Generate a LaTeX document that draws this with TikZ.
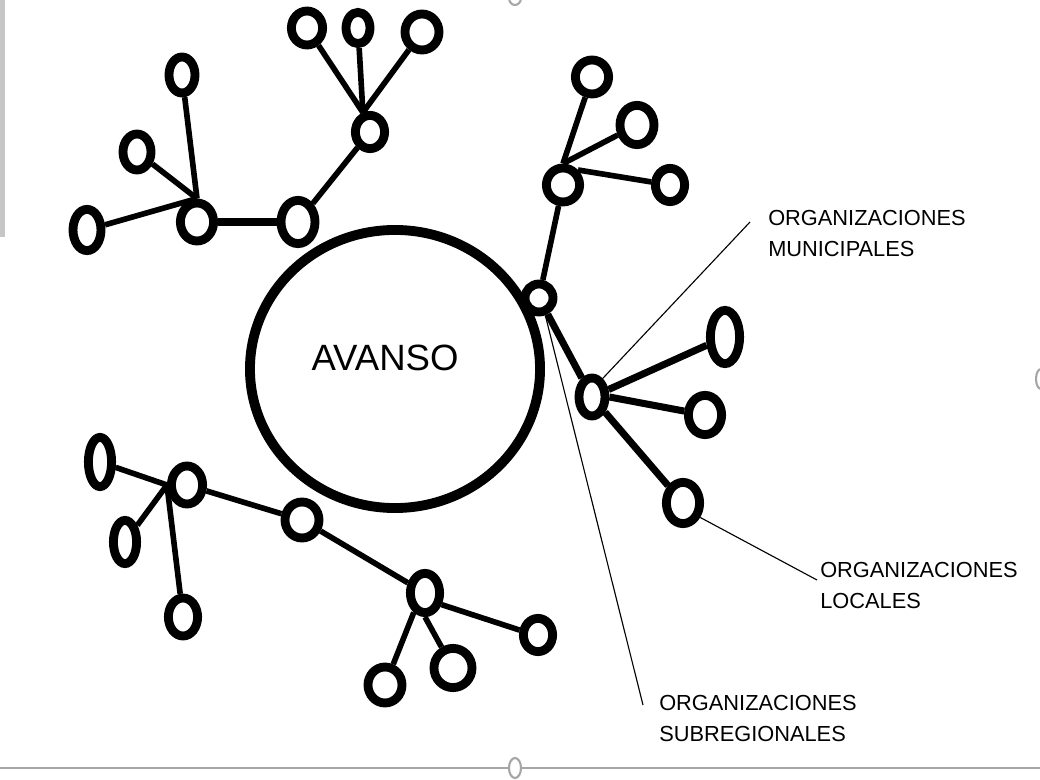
\documentclass[tikz,border=0pt]{standalone}
\usepackage{fontspec}
\setmainfont{Liberation Sans}
\usetikzlibrary{shapes.geometric}

\begin{document}
\begin{tikzpicture}[
    x=0.025cm, y=-0.025cm,
    orgnode/.style={ellipse, draw, fill=white, line width=6.3pt, inner sep=0pt,
        minimum width=0.8cm, minimum height=0.9cm},
    mainorg/.style={ellipse, draw, line width=7pt, inner sep=0pt,
        minimum width=7.25cm, minimum height=6.95cm},
    link/.style={line width=4pt},
    heavylink/.style={line width=5pt},
    leader/.style={line width=0.8pt},
    orglabel/.style={anchor=north west, inner sep=0pt, align=left,
        font=\fontsize{15.5pt}{22pt}\selectfont},
    handle/.style={draw=gray!70, line width=1.5pt, fill=white}
]
\useasboundingbox (0,0) rectangle (1040,780);

% Main circle
\node[mainorg] (avanso) at (395,369) {};
\node[font=\fontsize{26pt}{30pt}\selectfont] (avansotext) at (385,358) {AVANSO};

% Top-left branch
\node[orgnode, minimum width=0.85cm, minimum height=1.08cm] (h2) at (298,222) {};
\node[orgnode, minimum width=0.83cm, minimum height=0.95cm] (h1) at (197,222) {};
\node[orgnode, minimum width=0.7cm, minimum height=1.03cm] (tl1) at (87,230) {};
\node[orgnode, minimum width=0.7cm, minimum height=0.9cm] (tl2) at (137,152) {};
\node[orgnode, minimum width=0.65cm, minimum height=0.9cm] (tl3) at (182,75) {};
\node[orgnode, minimum width=0.73cm, minimum height=0.83cm] (h3) at (370,132) {};
\node[orgnode, minimum width=0.78cm, minimum height=0.85cm] (t1) at (307,28) {};
\node[orgnode, minimum width=0.6cm, minimum height=0.78cm] (t2) at (358,28) {};
\node[orgnode, minimum width=0.85cm, minimum height=0.9cm] (t3) at (422,32) {};

% Top-right branch
\node[orgnode, minimum width=0.7cm, minimum height=0.7cm] (r1) at (539,298) {};
\node[orgnode, minimum width=0.83cm, minimum height=0.85cm] (r2) at (563,185) {};
\node[orgnode, minimum width=0.83cm, minimum height=0.85cm] (r3) at (592,77) {};
\node[orgnode, minimum width=0.85cm, minimum height=0.98cm] (r4) at (637,125) {};
\node[orgnode, minimum width=0.73cm, minimum height=0.83cm] (r5) at (670,185) {};

% Right branch
\node[orgnode, minimum width=0.65cm, minimum height=0.95cm] (r6) at (592,397) {};
\node[orgnode, minimum width=0.73cm, minimum height=1.33cm] (r7) at (725,337) {};
\node[orgnode, minimum width=0.83cm, minimum height=0.98cm] (r8) at (705,415) {};
\node[orgnode, minimum width=0.83cm, minimum height=1.03cm] (r9) at (683,503) {};

% Bottom branch
\node[orgnode, minimum width=0.85cm, minimum height=0.9cm] (b5) at (302,520) {};
\node[orgnode, minimum width=0.78cm, minimum height=0.95cm] (b2) at (187,485) {};
\node[orgnode, minimum width=0.58cm, minimum height=1.23cm] (b1) at (100,462) {};
\node[orgnode, minimum width=0.58cm, minimum height=1.08cm] (b3) at (125,542) {};
\node[orgnode, minimum width=0.73cm, minimum height=0.95cm] (b4) at (183,617) {};
\node[orgnode, minimum width=0.73cm, minimum height=0.98cm] (b6) at (425,593) {};
\node[orgnode, minimum width=0.85cm, minimum height=0.9cm] (b7) at (385,685) {};
\node[orgnode, minimum width=0.95cm, minimum height=0.98cm] (b8) at (453,668) {};
\node[orgnode, minimum width=0.73cm, minimum height=0.83cm] (b9) at (538,635) {};

% Labels
\node[orglabel] (muni) at (768,210) {ORGANIZACIONES\\MUNICIPALES};
\node[orglabel] (loc) at (820,562) {ORGANIZACIONES\\LOCALES};
\node[orglabel] (subreg) at (659,695) {ORGANIZACIONES\\SUBREGIONALES};
\coordinate (muniend) at (750,222);
\coordinate (locend) at (817,580);
\coordinate (subregend) at (643,705);

% Edges
\draw[link] (h1.north) -- (tl1);
\draw[link] (h1.north) -- (tl2);
\draw[link] (h1.north) -- (tl3);
\draw[heavylink] (h1) -- (h2);
\draw[link] (h2) -- (h3);
\draw[link] (h3.110) -- (t1);
\draw[link] (h3.110) -- (t2);
\draw[link] (h3.110) -- (t3);

\draw[link] (r1) -- (r2);
\draw[link] (r2.north) -- (r3);
\draw[link] (r2.north) -- (r4);
\draw[link] (r2.45) -- (r5);

\draw[heavylink] (r1) -- (r6);
\draw[heavylink] (r6) -- (r7);
\draw[heavylink] (r6.east) -- (r8);
\draw[heavylink] (r6) -- (r9);

\draw[link] (b5) -- (b2);
\draw[link] (b2.west) -- (b1);
\draw[link] (b2.west) -- (b3);
\draw[link] (b2.west) -- (b4);
\draw[link] (b5) -- (b6);
\draw[link] (b6.-120) -- (b7);
\draw[link] (b6.south) -- (b8);
\draw[link] (b6.-35) -- (b9.165);

% Leaders to the labels
\draw[leader] (r6.60) -- (muniend);
\draw[leader] (r9.-40) -- (locend);
\draw[leader] (r1.-70) -- (subregend);

% Window frame
\fill[gray!45] (0,0) rectangle (5,237);
\draw[gray!70, line width=1.4pt] (0,768) -- (1040,768);
\draw[handle] (515,768) ellipse (6 and 10);
\draw[handle] (515,-2) ellipse (6 and 7);
\draw[handle] (1041,379) ellipse (5 and 10);

\end{tikzpicture}
\end{document}
